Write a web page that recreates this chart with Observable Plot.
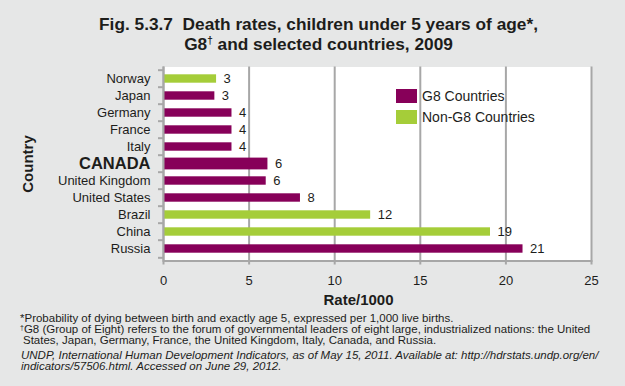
<!DOCTYPE html>
<html><head><meta charset="utf-8">
<script src="https://cdn.jsdelivr.net/npm/d3@7"></script>
<script src="https://cdn.jsdelivr.net/npm/@observablehq/plot@0.6"></script>
<style>
html,body{margin:0;padding:0;background:#e6e7e7;}
#root{position:relative;width:625px;height:386px;overflow:hidden;font-family:"Liberation Sans",Arial,Helvetica,sans-serif;color:#1d1d1b;}
#title{position:absolute;left:0;top:14px;width:637px;text-align:center;font-weight:bold;font-size:17.3px;line-height:20px;}
#title sup{font-size:10px;vertical-align:6px;line-height:0;}
#chart{position:absolute;left:0;top:56px;}
#legend{position:absolute;left:396px;top:89px;font-size:14px;z-index:2;}
.item{display:flex;align-items:center;height:14px;margin-bottom:7px;white-space:nowrap;}
.sw{width:21px;height:14px;margin-right:5px;flex:none;}
#notes{position:absolute;left:20px;top:313px;font-size:11.5px;line-height:11px;width:605px;white-space:nowrap;}
#notes .hang{padding-left:3px;text-indent:-3px;}
#notes sup{font-size:7px;vertical-align:3px;line-height:0;}
#notes .src{font-style:italic;margin-top:4px;padding-left:1px;}
</style>
</head><body>
<div id="root">
  <div id="title">Fig. 5.3.7&nbsp; Death rates, children under 5 years of age*,<br>G8<sup>†</sup> and selected countries, 2009</div>
  <div id="chart"></div>
  <div id="legend"></div>
  <div id="notes">
    <div>*Probability of dying between birth and exactly age 5, expressed per 1,000 live births.</div>
    <div class="hang"><sup>†</sup>G8 (Group of Eight) refers to the forum of governmental leaders of eight large, industrialized nations: the United<br>States, Japan, Germany, France, the United Kingdom, Italy, Canada, and Russia.</div>
    <div class="src">UNDP, International Human Development Indicators, as of May 15, 2011. Available at: http://hdrstats.undp.org/en/<br>indicators/57506.html. Accessed on June 29, 2012.</div>
  </div>
</div>
<script>
// ---- data ----
const countries = ["Norway","Japan","Germany","France","Italy","CANADA","United Kingdom","United States","Brazil","China","Russia"];
const rates = [3.1, 3.0, 4.0, 4.0, 4.0, 6.1, 6.0, 8.0, 12.1, 19.1, 21.0];
const rateLabels = ["3","3","4","4","4","6","6","8","12","19","21"];
const groups = ["Non-G8 Countries","G8 Countries","G8 Countries","G8 Countries","G8 Countries","G8 Countries","G8 Countries","G8 Countries","Non-G8 Countries","Non-G8 Countries","G8 Countries"];
const groupNames = ["G8 Countries","Non-G8 Countries"];
const groupColors = ["#870059","#a5cd39"];
const highlight = "CANADA";
const xTicks = [0,5,10,15,20,25];
const xTitle = "Rate/1000";
const yTitle = "Country";

const data = countries.map((c,i)=>({country:c, rate:rates[i], label:rateLabels[i], group:groups[i]}));

// ---- layout ----
const W=625, H=256, mL=163, mR=34, mT=10.5, mB=51.5;
const bw = (H-mT-mB)/countries.length;
const grid = "#a7a7a7";
const ink = "#1d1d1b";
const font = '"Liberation Sans", Arial, Helvetica, sans-serif';

const chart = Plot.plot({
  width: W, height: H, marginLeft: mL, marginRight: mR, marginTop: mT, marginBottom: mB,
  style: {background: "transparent", fontFamily: font, fontSize: "13px", color: ink, overflow: "visible"},
  x: {domain: [0, 25], label: null},
  y: {domain: countries, padding: 0, label: null, axis: null},
  color: {domain: groupNames, range: groupColors},
  marks: [
    Plot.frame({fill: "white", stroke: null}),
    Plot.gridX({ticks: xTicks, stroke: grid, strokeWidth: 2, strokeOpacity: 1}),
    Plot.barX(data.filter(d=>d.country!==highlight), {x: "rate", y: "country", fill: "group", insetTop: 4.3, insetBottom: 4.3}),
    Plot.barX(data.filter(d=>d.country===highlight), {x: "rate", y: "country", fill: "group", insetTop: 2.6, insetBottom: 2.6}),
    Plot.ruleX([0], {stroke: grid, strokeWidth: 2}),
    Plot.frame({anchor: "bottom", stroke: grid, strokeWidth: 2}),
    Plot.axisX({ticks: xTicks, tickSize: 4, tickPadding: 11, stroke: grid, strokeWidth: 2, fill: ink, fontSize: 13, label: null}),
    Plot.axisY({tickSize: 5, fill: "none", stroke: grid, strokeWidth: 2, dy: -bw/2, label: null}),
    Plot.axisY({ticks: [countries[countries.length-1]], tickSize: 5, fill: "none", stroke: grid, strokeWidth: 2, dy: bw/2, label: null}),
    Plot.text(countries.filter(c=>c!==highlight), {y: d=>d, text: d=>d, frameAnchor: "left", textAnchor: "end", dx: -13, fontSize: 13, fill: ink}),
    Plot.text([highlight], {y: d=>d, text: d=>d, frameAnchor: "left", textAnchor: "end", dx: -13, fontSize: 16.5, fontWeight: "bold", fill: ink}),
    Plot.text(data, {x: "rate", y: "country", text: "label", textAnchor: "start", dx: 7, fontSize: 13, fill: ink}),
    Plot.text([yTitle], {text: d=>d, frameAnchor: "left", textAnchor: "middle", lineAnchor: "middle", dx: -135, rotate: -90, fontWeight: "bold", fontSize: 15, fill: ink}),
    Plot.text([xTitle], {text: d=>d, frameAnchor: "bottom", textAnchor: "middle", lineAnchor: "middle", dx: -19, dy: 39, fontWeight: "bold", fontSize: 15, fill: ink})
  ]
});
document.getElementById("chart").appendChild(chart);

const legend = document.getElementById("legend");
groupNames.forEach((g,i)=>{
  const item = document.createElement("div");
  item.className = "item";
  const sw = document.createElement("div");
  sw.className = "sw";
  sw.style.background = groupColors[i];
  const t = document.createElement("span");
  t.textContent = g;
  item.appendChild(sw); item.appendChild(t);
  legend.appendChild(item);
});
</script>
</body></html>
